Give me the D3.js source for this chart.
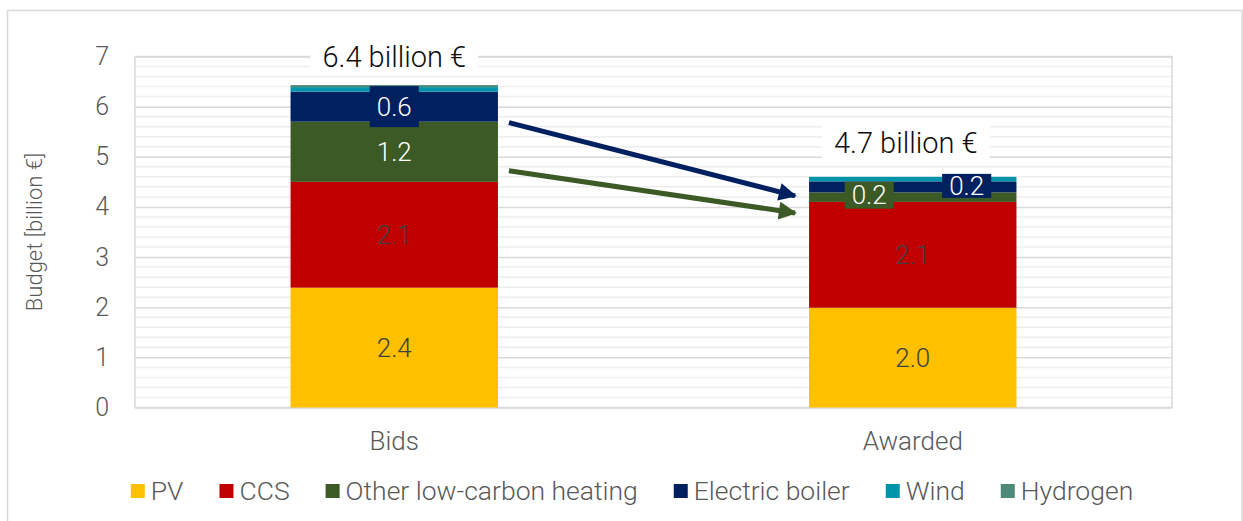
<!DOCTYPE html>
<html><head><meta charset="utf-8">
<script src="https://cdn.jsdelivr.net/npm/d3@7"></script>
<style>
html,body{margin:0;padding:0;background:#fff;}
svg{display:block;font-family:Roboto,"Open Sans",sans-serif;font-weight:300;}
</style></head>
<body>
<svg id="chart" width="1243" height="521"></svg>
<script>
// ---- data ----
const categories = ["Bids", "Awarded"];
const seriesNames = ["PV", "CCS", "Other low-carbon heating", "Electric boiler", "Wind", "Hydrogen"];
const seriesColors = ["#FFC000", "#C00000", "#3B5A25", "#002060", "#0094AA", "#4E8A78"];
const pvValues = [2.39, 1.99];
const ccsValues = [2.11, 2.11];
const otherValues = [1.2, 0.19];
const electricValues = [0.6, 0.22];
const windValues = [0.09, 0.09];
const hydrogenValues = [0.04, 0.0];
const valueLabels = [
  ["2.4", "2.0"],
  ["2.1", "2.1"],
  ["1.2", "0.2"],
  ["0.6", "0.2"],
  [null, null],
  [null, null]
];
const totalLabels = ["6.4 billion €", "4.7 billion €"];
const yTicks = [0, 1, 2, 3, 4, 5, 6, 7];
const yTitle = "Budget [billion €]";
// arrows: [seriesIndex, fromValue(Bids side), toValue(Awarded side)]
const arrowsData = [[3, 5.68, 4.22], [2, 4.72, 3.88]];

const allSeries = [pvValues, ccsValues, otherValues, electricValues, windValues, hydrogenValues];

const svg = d3.select("#chart");
// outer frame
svg.append("rect").attr("x", 7.5).attr("y", 10.5).attr("width", 1234.5).attr("height", 530)
  .attr("fill", "none").attr("stroke", "#d9d9d9").attr("stroke-width", 1.5);

const L = 135, R = 1172, T = 56.5, B = 407.5;
const x = d3.scaleBand().domain(categories).range([L, R]).paddingInner(0.6).paddingOuter(0.3);
const y = d3.scaleLinear().domain([0, 7]).range([B, T]);

// minor gridlines
const minor = d3.range(0, 7.0001, 0.2).filter(v => Math.abs(v - Math.round(v)) > 1e-6);
svg.append("g").selectAll("line").data(minor).join("line")
  .attr("x1", L).attr("x2", R).attr("y1", d => y(d)).attr("y2", d => y(d))
  .attr("stroke", "#eeeeee").attr("stroke-width", 1.5);

// major gridlines via axis
const yAxis = svg.append("g").attr("transform", `translate(${L},0)`)
  .call(d3.axisLeft(y).tickValues(yTicks).tickSize(-(R - L)).tickPadding(26).tickFormat(d3.format("d")));
yAxis.select(".domain").remove();
yAxis.selectAll(".tick line").attr("stroke", "#d9d9d9").attr("stroke-width", 1.5);
yAxis.selectAll(".tick text").attr("fill", "#595959").style("font-size", "25px")
  .style("font-family", "Roboto").style("font-weight", 300);

// plot frame
svg.append("rect").attr("x", L).attr("y", T).attr("width", R - L).attr("height", B - T)
  .attr("fill", "none").attr("stroke", "#d9d9d9").attr("stroke-width", 1.5);

// stack
const rows = categories.map((c, i) => {
  const o = { cat: c };
  seriesNames.forEach((s, k) => o[s] = allSeries[k][i]);
  return o;
});
const stacked = d3.stack().keys(seriesNames)(rows);

const g = svg.append("g");
stacked.forEach((layer, k) => {
  g.append("g").selectAll("rect").data(layer).join("rect")
    .attr("x", d => x(d.data.cat))
    .attr("width", x.bandwidth())
    .attr("y", d => y(d[1]))
    .attr("height", d => Math.max(0, y(d[0]) - y(d[1])))
    .attr("fill", seriesColors[k]);
});

// value labels
const labelG = svg.append("g");
stacked.forEach((layer, k) => {
  layer.forEach((d, i) => {
    const txt = valueLabels[k][i];
    if (!txt) return;
    const thin = (y(d[0]) - y(d[1])) < 30;
    let cx = x(d.data.cat) + x.bandwidth() / 2;
    let cy = (y(d[0]) + y(d[1])) / 2;
    if (thin && k === 2) { cx -= x.bandwidth() * 0.21; cy -= 2; }
    if (thin && k === 3) { cx += x.bandwidth() * 0.26; cy -= 1; }
    const dark = (k === 0 || k === 1);
    const t = labelG.append("text").attr("x", cx).attr("y", cy).attr("dy", "0.35em")
      .attr("text-anchor", "middle").style("font-size", "26px")
      .attr("fill", dark ? "#404040" : "#ffffff").text(txt);
    if (k === 3 || thin) {
      const w = t.node().getComputedTextLength();
      const h = (k === 3 && !thin) ? 41 : (k === 3 ? 24 : 27);
      labelG.insert("rect", () => t.node())
        .attr("x", cx - w / 2 - 7).attr("y", cy - h / 2)
        .attr("width", w + 14).attr("height", h)
        .attr("fill", seriesColors[k]);
    }
  });
});

// total labels
const totals = categories.map((c, i) => d3.sum(allSeries, s => s[i]));
totalLabels.forEach((txt, i) => {
  const cx = x(categories[i]) + x.bandwidth() / 2 - (i === 1 ? 7 : 0);
  const cy = i === 0 ? y(7) : y(totals[i]) - 34;
  const t = svg.append("text").attr("x", cx).attr("y", cy).attr("dy", "0.35em")
    .attr("text-anchor", "middle").style("font-size", "29px").style("font-weight", 300)
    .attr("fill", "#0d0d0d").text(txt);
  const w = t.node().getComputedTextLength();
  svg.insert("rect", () => t.node()).attr("x", cx - w / 2 - 12).attr("y", cy - 18)
    .attr("width", w + 24).attr("height", 36).attr("fill", "#fff");
});

// arrows
const defs = svg.append("defs");
arrowsData.forEach(([k, v0, v1], i) => {
  const col = seriesColors[k];
  defs.append("marker").attr("id", "ah" + i).attr("viewBox", "0 0 10 10")
    .attr("refX", 9).attr("refY", 5).attr("markerWidth", 4).attr("markerHeight", 3.6)
    .attr("markerUnits", "strokeWidth").attr("orient", "auto")
    .append("path").attr("d", "M0,0 L10,5 L0,10 Z").attr("fill", col);
  const x0 = x(categories[0]) + x.bandwidth() + 11;
  const x1 = x(categories[1]) - 14;
  svg.append("line").attr("x1", x0).attr("y1", y(v0)).attr("x2", x1).attr("y2", y(v1))
    .attr("stroke", col).attr("stroke-width", 5).attr("marker-end", `url(#ah${i})`);
});

// category labels
svg.append("g").selectAll("text").data(categories).join("text")
  .attr("x", d => x(d) + x.bandwidth() / 2).attr("y", 441).attr("dy", "0.35em")
  .attr("text-anchor", "middle").style("font-size", "26px").attr("fill", "#595959").text(d => d);

// y title
svg.append("text").attr("transform", `translate(34,${(T + B) / 2}) rotate(-90)`)
  .attr("text-anchor", "middle").attr("dy", "0.35em").style("font-size", "22px")
  .attr("fill", "#595959").text(yTitle);

// legend
const leg = svg.append("g");
let lx = 0;
seriesNames.forEach((s, k) => {
  const it = leg.append("g");
  it.append("rect").attr("x", lx).attr("y", -7).attr("width", 14).attr("height", 14).attr("fill", seriesColors[k]);
  const t = it.append("text").attr("x", lx + 20).attr("y", 0).attr("dy", "0.35em")
    .style("font-size", "26.5px").attr("fill", "#595959").text(s);
  lx += 20 + t.node().getComputedTextLength() + 36;
});
lx -= 36;
leg.attr("transform", `translate(${632 - lx / 2},491)`);
</script>
</body></html>
